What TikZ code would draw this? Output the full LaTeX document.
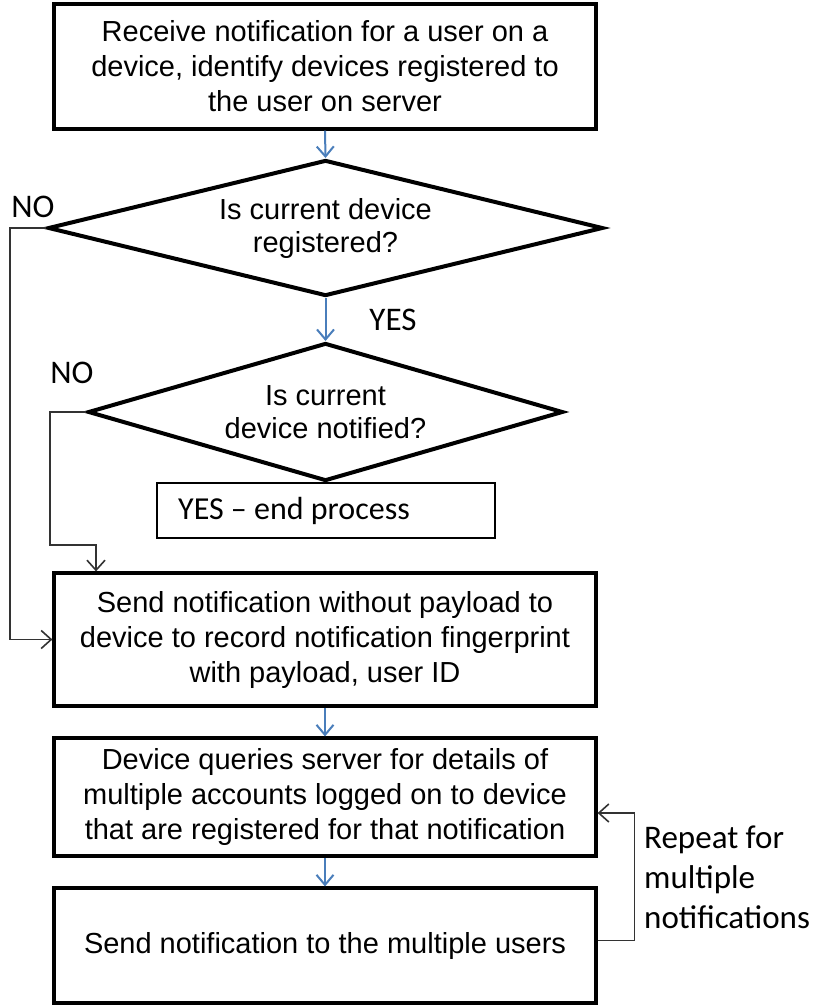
\documentclass[tikz,border=0pt]{standalone}
\usepackage{fontspec}
\setmainfont{Liberation Sans}
\newfontfamily\calfont{Carlito}
\usetikzlibrary{shapes.geometric,arrows.meta}
\definecolor{flowblue}{HTML}{4A7EBB}

\begin{document}
\begin{tikzpicture}[x=1pt,y=-1pt,
    box/.style={draw, line width=3.2pt, minimum width=542pt, align=center,
      inner sep=0pt, font=\fontsize{29}{35}\selectfont},
    decision/.style={draw, shape=diamond, line width=4pt, aspect=4,
      inner sep=0pt, align=center, font=\fontsize{29}{33}\selectfont},
    endbox/.style={draw, line width=1.3pt, minimum width=338pt, minimum height=55pt,
      inner xsep=19pt, font=\calfont\fontsize{32}{40}\selectfont},
    lbl/.style={font=\calfont\fontsize{33}{40}\selectfont, inner sep=0pt},
    flow/.style={flowblue, line width=2pt, -{Straight Barb[length=10pt,width=17pt]}},
    link/.style={black!80, line width=1.6pt, -{Straight Barb[length=10pt,width=18pt]}}]
    \useasboundingbox (0,0) rectangle (816,1005);

    % steps
    \node[box, minimum height=125pt] (recv) at (325,66.5)
      {Receive notification for a user on a\\device, identify devices registered to\\the user on server};
    \node[decision, minimum width=555pt, minimum height=136pt] (reg) at (325.5,228)
      {Is current device\\registered?};
    \node[decision, minimum width=475pt, minimum height=138pt] (notif) at (325.5,412)
      {Is current\\device notified?};
    \node[endbox] (endp) at (326,510.5) {YES – end process\hspace*{64pt}};
    \node[box, minimum height=133pt] (send) at (325,639.5)
      {Send notification without payload to\\device to record notification fingerprint\\with payload, user ID};
    \node[box, minimum height=118pt] (query) at (325,797)
      {Device queries server for details of\\multiple accounts logged on to device\\that are registered for that notification};
    \node[box, minimum height=115pt] (multi) at (325,945.5)
      {Send notification to the multiple users};

    % labels
    \node[lbl] (no1) at (33,207) {NO};
    \node[lbl] (yes1) at (393,320) {YES};
    \node[lbl] (no2) at (72,373) {NO};
    \node[lbl, align=left, anchor=north west] (rpt) at (644,826)
      {Repeat for\\multiple\\notifications};

    % main flow
    \draw[flow] (recv.south) -- (reg.north);
    \draw[flow] (reg.south) -- (notif.north);
    \draw[flow] (send.south) -- (query.north);
    \draw[flow] (query.south) -- (multi.north);

    % NO branches and repeat loop
    \coordinate (nobend) at (50,545);
    \coordinate (nodrop) at (96,545);
    \draw[link] (reg.west) -- ++(-36,0) |- (send.west);
    \draw[link] (notif.west) -| (nobend) -- (nodrop) -- (nodrop |- send.north);
    \draw[link] ([yshift=5pt]multi.east) -- ++(37,0) |- ([yshift=-16pt]query.east);
  \end{tikzpicture}
\end{document}
